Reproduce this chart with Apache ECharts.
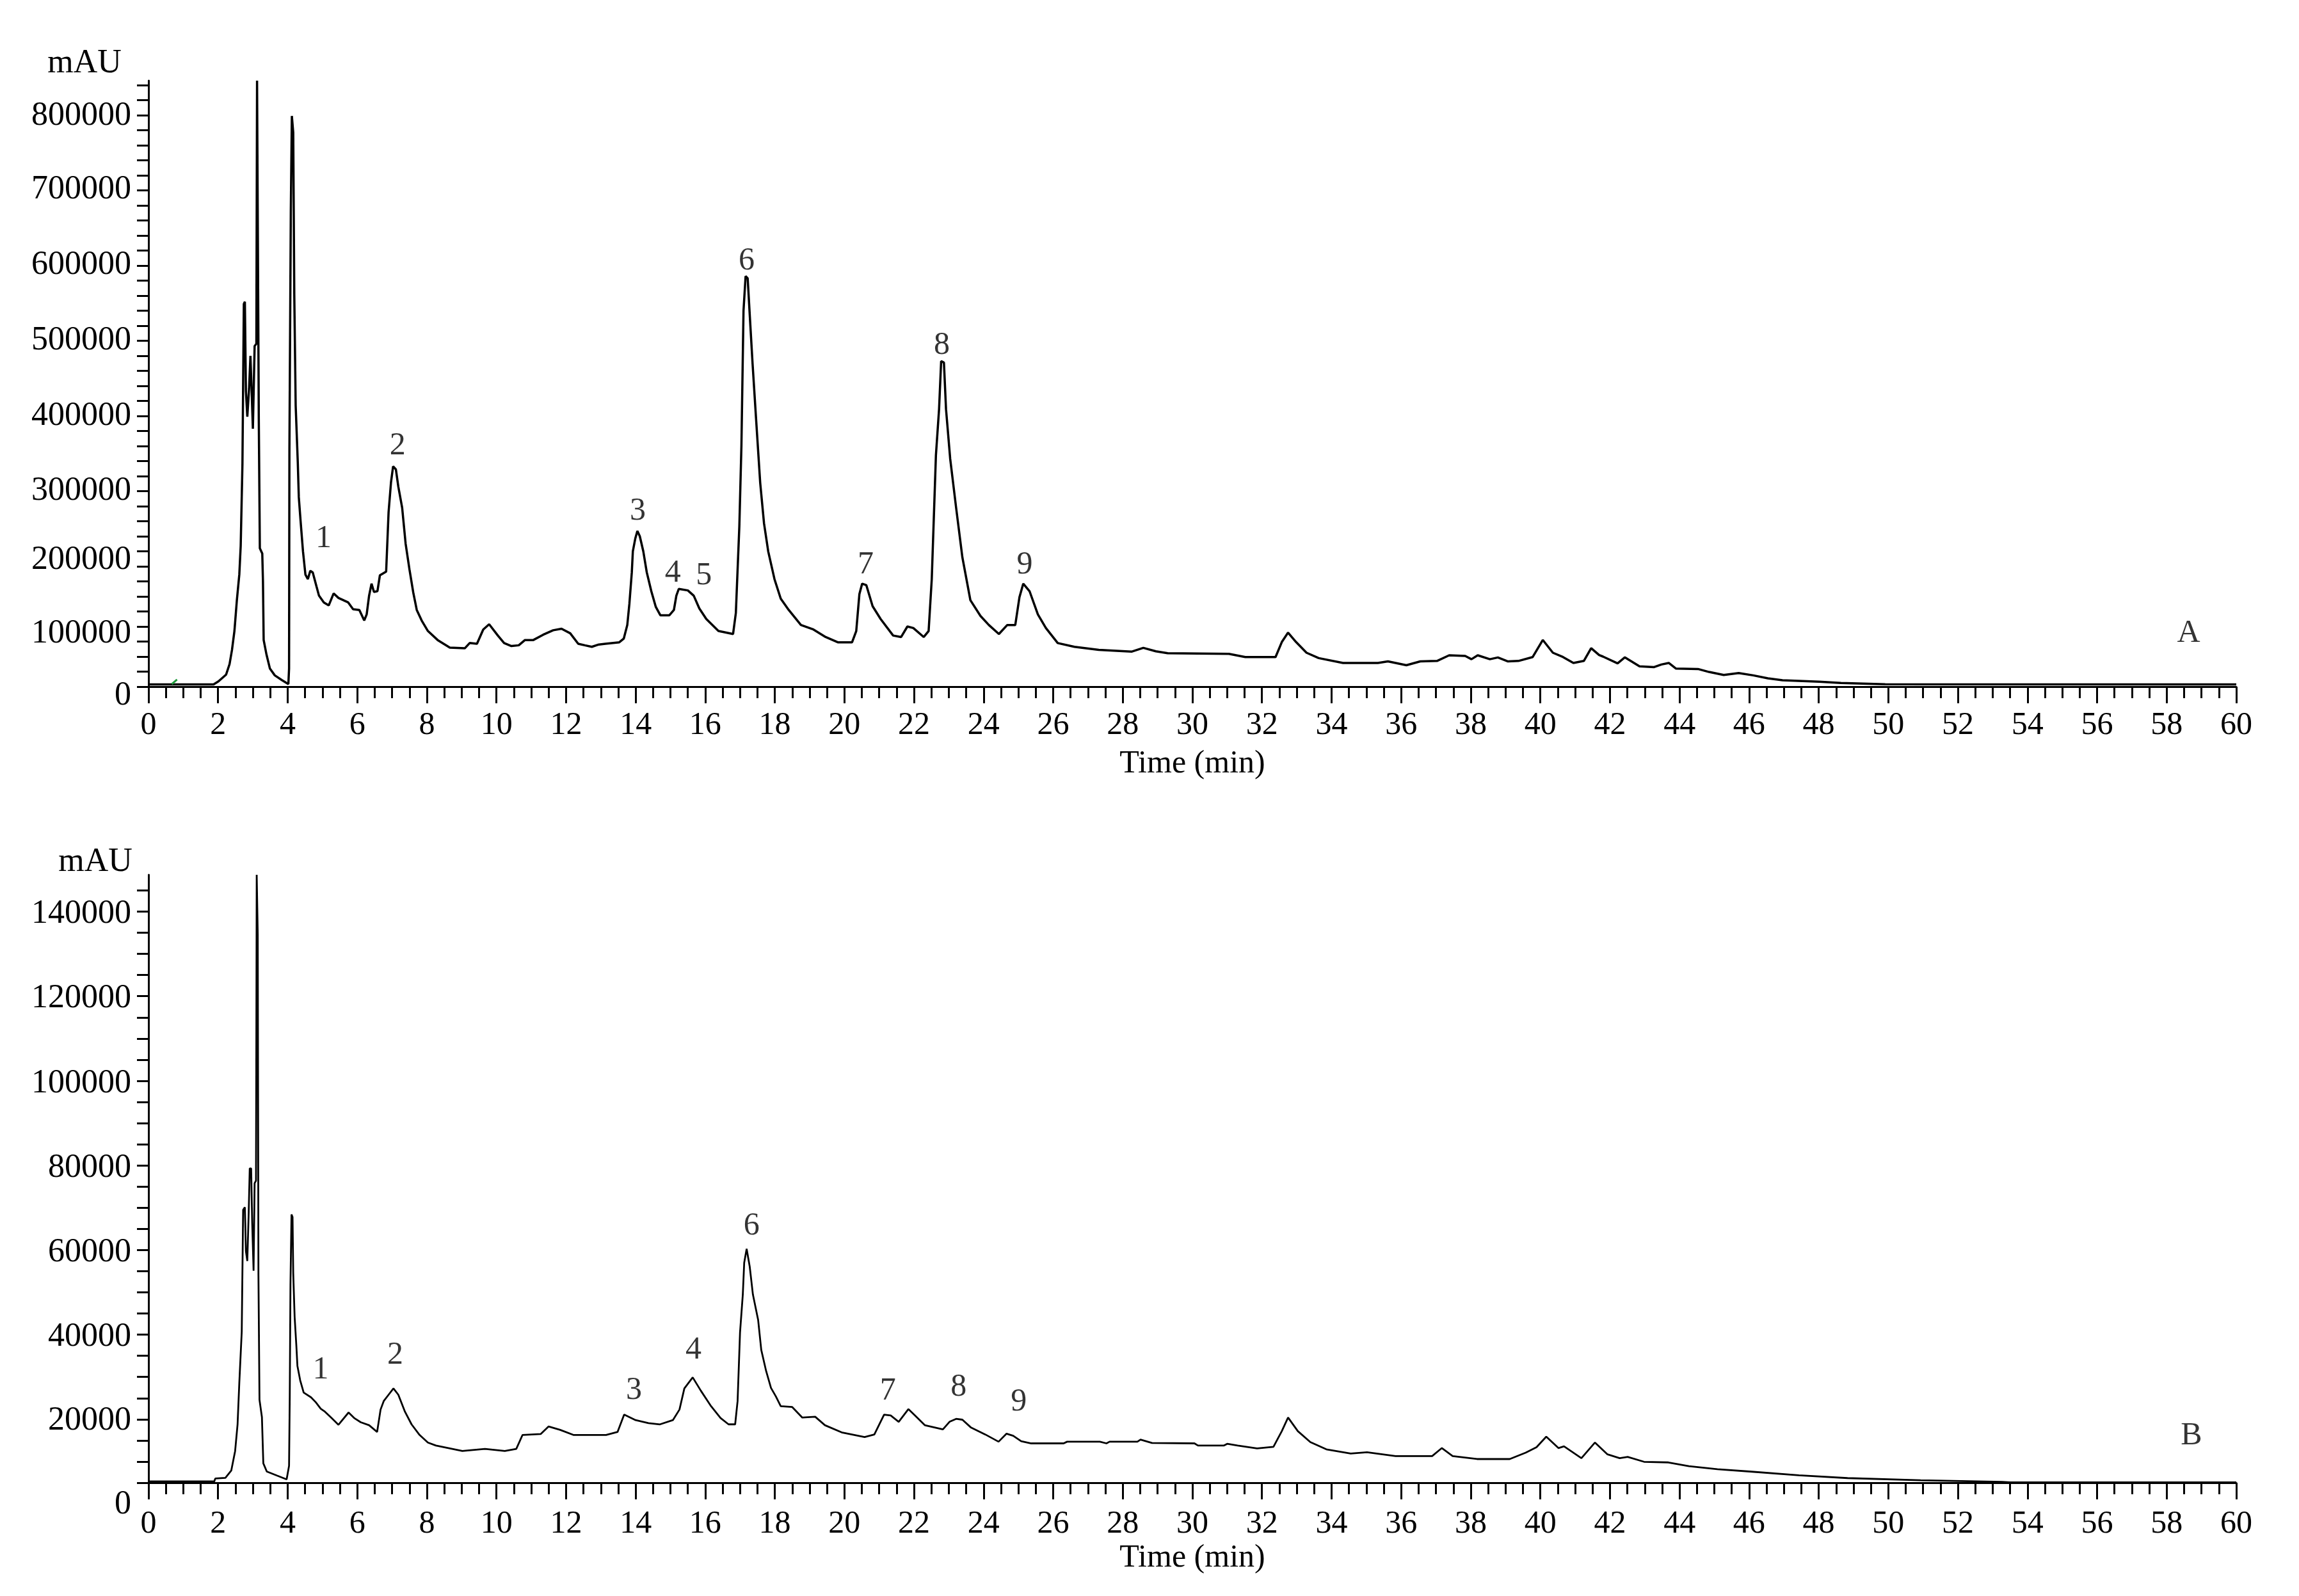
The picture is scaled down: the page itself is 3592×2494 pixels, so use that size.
<!DOCTYPE html>
<html>
<head>
<meta charset="utf-8">
<script src="https://cdn.jsdelivr.net/npm/echarts@6/dist/echarts.min.js"></script>
<style>
html,body{margin:0;padding:0;background:#fff;}
#chart{width:3592px;height:2494px;}
</style>
</head>
<body>
<div id="chart"></div>
<script>
// ---------- Data: chromatogram A (top) ----------
const timeA = [0,1.87,2.01,2.23,2.33,2.40,2.47,2.54,2.61,2.65,2.70,2.74,2.77,2.80,2.84,2.89,2.93,2.96,3.00,3.05,3.10,3.12,3.15,3.17,3.20,3.27,3.29,3.31,3.39,3.49,3.63,3.84,4.02,4.04,4.05,4.09,4.12,4.16,4.19,4.23,4.29,4.32,4.37,4.44,4.51,4.58,4.65,4.72,4.83,4.90,5.04,5.18,5.32,5.46,5.74,5.88,6.06,6.20,6.27,6.34,6.41,6.48,6.58,6.65,6.83,6.90,6.97,7.03,7.11,7.18,7.29,7.39,7.50,7.61,7.71,7.85,8.03,8.31,8.66,9.09,9.23,9.44,9.62,9.79,10.04,10.22,10.43,10.64,10.82,11.06,11.34,11.63,11.87,12.12,12.35,12.54,12.74,12.94,13.13,13.53,13.66,13.76,13.82,13.89,13.92,13.99,14.05,14.12,14.22,14.32,14.45,14.58,14.71,14.97,15.10,15.17,15.24,15.50,15.67,15.83,16.03,16.38,16.80,16.88,16.98,17.04,17.10,17.16,17.22,17.28,17.36,17.46,17.58,17.69,17.81,17.99,18.17,18.40,18.75,19.11,19.46,19.81,20.22,20.34,20.43,20.51,20.63,20.81,21.04,21.40,21.63,21.81,21.98,22.28,22.42,22.51,22.63,22.72,22.78,22.86,22.92,23.04,23.21,23.39,23.62,23.91,24.15,24.44,24.68,24.91,25.03,25.14,25.32,25.56,25.79,26.13,26.61,27.31,28.25,28.59,28.95,29.29,31.05,31.52,32.39,32.57,32.75,32.98,33.28,33.63,34.33,35.33,35.62,36.15,36.55,37.03,37.38,37.84,38.02,38.20,38.55,38.78,39.07,39.37,39.78,40.07,40.36,40.65,40.95,41.25,41.46,41.69,41.80,42.22,42.43,42.85,43.27,43.48,43.69,43.90,44.53,44.85,45.27,45.70,46.12,46.54,46.96,48.01,48.64,49.91,60];
const valueA = [3000,3000,7000,16000,30000,49000,74000,115000,149000,187000,296000,509000,512000,393000,359000,396000,440000,399000,343000,453000,456000,806000,806000,356000,184000,177000,140000,62000,43000,24000,15000,8500,3400,24000,315000,631000,759000,737000,521000,374000,299000,252000,221000,180000,149000,143000,154000,152000,133000,121000,112000,108000,124000,118000,112000,103000,102000,88000,96000,121000,137000,126000,127000,148000,153000,232000,272000,293000,289000,266000,238000,190000,156000,125000,102000,88000,74000,62000,52000,51000,58000,57000,76000,83000,68000,58000,54000,55000,62000,62000,69000,75000,77000,71000,57000,55000,53000,56000,57000,59000,64000,82000,110000,152000,180000,197000,207000,200000,180000,152000,127000,106000,95000,95000,102000,121000,130000,128000,121000,104000,90000,74000,70000,98000,213000,320000,500000,546000,543000,494000,430000,357000,271000,217000,180000,143000,117000,102000,82000,76000,66000,59000,59000,74000,123000,137000,135000,107000,90000,68000,66000,80000,78000,66000,74000,143000,308000,369000,433000,431000,369000,303000,238000,172000,115000,94000,82000,70000,82000,82000,119000,137000,127000,96000,78000,58000,53000,49000,46500,51600,47000,44500,43600,39400,39400,59300,71900,59300,45100,38000,31500,31500,33600,28500,33600,34200,41700,40800,36500,41700,36500,38800,33600,34200,39400,62100,45100,39400,31500,34200,51200,42000,40000,31000,39000,27000,26000,29500,31500,24000,23500,19500,15500,18000,15000,11000,8500,6500,4800,3200,3000];

// ---------- Data: chromatogram B (bottom) ----------
const timeB = [0,1.89,1.92,2.21,2.38,2.49,2.56,2.61,2.68,2.72,2.77,2.80,2.84,2.88,2.91,2.95,2.98,3.02,3.05,3.09,3.11,3.13,3.14,3.16,3.19,3.26,3.30,3.40,3.69,3.97,4.04,4.06,4.08,4.11,4.14,4.16,4.20,4.25,4.28,4.36,4.46,4.67,4.81,4.95,5.07,5.26,5.46,5.75,5.91,6.10,6.34,6.57,6.67,6.76,6.90,7.04,7.18,7.37,7.56,7.79,8.03,8.26,8.73,9.02,9.67,10.24,10.57,10.75,11.27,11.50,11.83,12.21,13.15,13.48,13.67,14.00,14.37,14.70,15.07,15.26,15.40,15.64,15.87,16.15,16.44,16.67,16.86,16.93,17.00,17.08,17.12,17.19,17.28,17.37,17.52,17.61,17.75,17.89,18.03,18.17,18.50,18.79,19.16,19.44,19.92,20.58,20.86,21.14,21.33,21.56,21.84,22.03,22.31,22.83,23.02,23.21,23.39,23.63,24.05,24.43,24.66,24.85,25.08,25.37,26.30,26.40,27.34,27.53,27.62,28.42,28.51,28.84,30.06,30.16,30.91,31.00,31.30,31.86,32.33,32.57,32.75,33.03,33.39,33.85,34.55,35.02,35.84,36.89,37.17,37.48,38.18,39.12,39.58,39.89,40.17,40.52,40.68,41.18,41.57,41.93,42.28,42.51,42.98,43.68,44.27,45.09,46.02,47.43,48.83,50.93,53.27,53.50,60];
const valueB = [300,300,1000,1150,2900,7500,13800,23600,35700,64500,65100,54700,52400,63900,74300,74300,61600,50100,70800,71400,143700,143700,129600,49000,19600,15500,4600,2650,1700,800,4000,20700,46700,63400,62800,49500,39200,32300,27600,24200,21300,20200,19000,17500,16800,15300,13700,16600,15300,14300,13600,12000,17300,19300,20800,22300,20800,16800,13800,11300,9500,8800,8000,7500,8000,7500,8000,11300,11500,13300,12500,11300,11300,12000,16100,14800,14100,13800,14800,17300,22300,24900,21800,18300,15300,13800,13800,19300,35500,44500,52000,55300,51000,44500,38500,31400,26400,22400,20400,18100,17900,15400,15600,13600,11900,10800,11400,16100,15900,14400,17400,15900,13600,12600,14400,15100,14900,13100,11400,9700,11600,11100,9800,9300,9300,9700,9700,9300,9700,9700,10200,9400,9300,8800,8800,9200,8800,8100,8500,12200,15400,12200,9600,7900,6900,7200,6300,6300,8200,6300,5600,5600,7100,8400,10900,8200,8600,5800,9500,6700,5800,6100,4950,4800,3900,3200,2650,1750,1100,600,200,100,100];

// small green mark near 0.7 min in A
const greenTime = [0.67, 0.82];
const greenValue = [3400, 9400];

// ---------- Peak annotations ----------
const peakNamesA = ['1','2','3','4','5','6','7','8','9'];
const peakTimeA  = [5.03, 7.16, 14.06, 15.07, 15.96, 17.19, 20.61, 22.80, 25.18];
const peakValueA = [197000, 320000, 233000, 151000, 147500, 566000, 162000, 454000, 162000];

const peakNamesB = ['1','2','3','4','6','7','8','9'];
const peakTimeB  = [4.95, 7.09, 13.95, 15.66, 17.33, 21.25, 23.28, 25.01];
const peakValueB = [26600, 30100, 21800, 31400, 60600, 21600, 22600, 19100];

const panelNames = ['A', 'B'];
const panelTime  = [58.63, 58.71];
const panelValue = [70600, 11000];

// ---------- Axis tick labels ----------
const yLabelsA = [0,100000,200000,300000,400000,500000,600000,700000,800000];
const yLabelsB = [0,20000,40000,60000,80000,100000,120000,140000];
const xLabels = [0,2,4,6,8,10,12,14,16,18,20,22,24,26,28,30,32,34,36,38,40,42,44,46,48,50,52,54,56,58,60];

// ---------- Layout constants (pixel offsets of y labels below their ticks, as in the reference) ----------
const yLabelDropA = [14, 35, 37, 47, 47, 47, 46, 46, 48];
const yLabelDropB = [34, 36, 37, 37, 37, 37, 37, 37];

// ---------- Build ----------
const zip = (a, b) => a.map((v, i) => [v, b[i]]);
const ticksA = []; for (let v = 0; v <= 800000; v += 20000) ticksA.push(v);
const ticksB = []; for (let v = 0; v <= 140000; v += 5000) ticksB.push(v);

const FONT = '"Liberation Serif", "Times New Roman", serif';

function xAxisCfg(idx, labelMargin, nameGap) {
  return {
    gridIndex: idx, type: 'value', min: 0, max: 60, interval: 2,
    name: 'Time (min)', nameLocation: 'middle', nameGap: nameGap,
    nameTextStyle: {fontFamily: FONT, fontSize: 50, color: '#000'},
    axisLine: {show: true, onZero: true, lineStyle: {color: '#000', width: 3}},
    axisTick: {show: true, length: 26, lineStyle: {color: '#000', width: 3}},
    minorTick: {show: true, splitNumber: 4, length: 18, lineStyle: {color: '#000', width: 3}},
    axisLabel: {customValues: xLabels, fontFamily: FONT, fontSize: 50, color: '#000', margin: labelMargin},
    splitLine: {show: false}, minorSplitLine: {show: false}
  };
}
function yAxisCfg(idx, max, interval, ticks) {
  return {
    gridIndex: idx, type: 'value', min: 0, max: max, interval: interval,
    axisLine: {show: true, lineStyle: {color: '#000', width: 3}},
    axisTick: {show: true, length: 18, customValues: ticks, lineStyle: {color: '#000', width: 3}},
    axisLabel: {show: false},
    splitLine: {show: false}
  };
}
function labelSeries(xi, names, ts, vs) {
  return {
    type: 'scatter', xAxisIndex: xi, yAxisIndex: xi, symbolSize: 1,
    itemStyle: {color: 'rgba(0,0,0,0)'}, silent: true, z: 5,
    label: {show: true, position: 'inside', formatter: p => p.name,
            fontFamily: FONT, fontSize: 50, color: '#000'},
    data: names.map((n, i) => ({name: n, value: [ts[i], vs[i]]}))
  };
}
function textEl(x, y, text, align) {
  return {type: 'text', x: x, y: y, z: 10, style: {text: text, font: '52px ' + FONT, fill: '#000',
    align: align, verticalAlign: 'middle', textAlign: align, textVerticalAlign: 'middle'}};
}

const chart = echarts.init(document.getElementById('chart'), null, {renderer: 'canvas'});
chart.setOption({
  backgroundColor: '#fff',
  animation: false,
  grid: [
    {left: 232, top: 126, width: 3262, height: 947},
    {left: 232, top: 1367, width: 3262, height: 950}
  ],
  xAxis: [xAxisCfg(0, 36, 96), xAxisCfg(1, 40, 93)],
  yAxis: [
    yAxisCfg(0, 806000, 20000, ticksA),
    yAxisCfg(1, 143700, 5000, ticksB)
  ],
  series: [
    {type: 'line', xAxisIndex: 0, yAxisIndex: 0, data: zip(timeA, valueA), showSymbol: false,
     symbol: 'none', lineStyle: {color: '#000', width: 3.5}, z: 3},
    {type: 'line', xAxisIndex: 0, yAxisIndex: 0, data: zip(greenTime, greenValue), showSymbol: false,
     symbol: 'none', lineStyle: {color: '#1f9a3c', width: 3}, z: 4},
    {type: 'line', xAxisIndex: 1, yAxisIndex: 1, data: zip(timeB, valueB), showSymbol: false,
     symbol: 'none', lineStyle: {color: '#000', width: 2.8}, z: 3},
    labelSeries(0, peakNamesA, peakTimeA, peakValueA),
    labelSeries(1, peakNamesB, peakTimeB, peakValueB),
    labelSeries(0, [panelNames[0]], [panelTime[0]], [panelValue[0]]),
    labelSeries(1, [panelNames[1]], [panelTime[1]], [panelValue[1]])
  ]
});

// y-axis tick labels, placed through the axis scale, slightly below their ticks as in the reference
const graphics = [textEl(132, 99, 'mAU', 'center'), textEl(149, 1347, 'mAU', 'center')];
const axisX = 232, labelGap = 27;
yLabelsA.forEach((v, i) => {
  const py = chart.convertToPixel({yAxisIndex: 0}, v);
  graphics.push(textEl(axisX - labelGap, py + yLabelDropA[i], String(v), 'right'));
});
yLabelsB.forEach((v, i) => {
  const py = chart.convertToPixel({yAxisIndex: 1}, v);
  graphics.push(textEl(axisX - labelGap, py + yLabelDropB[i], String(v), 'right'));
});
chart.setOption({graphic: graphics});
</script>
</body>
</html>
